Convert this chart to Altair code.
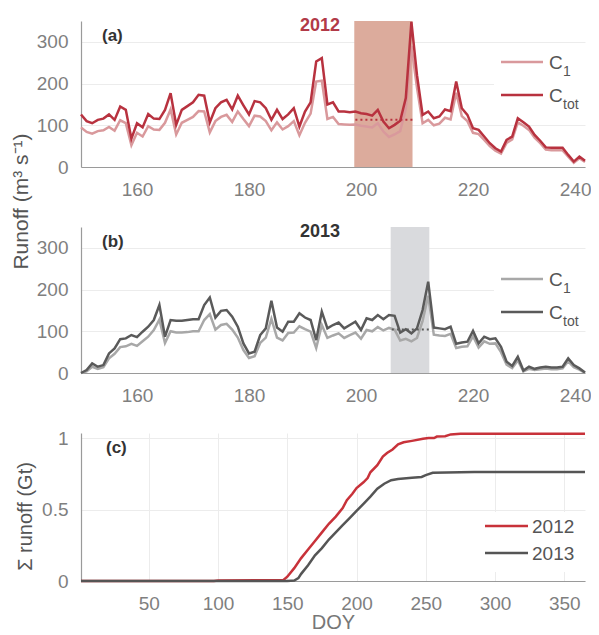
import altair as alt
import pandas as pd

# ---------------- data ----------------
doy = list(range(150, 241))

ctot_2012 = [126, 110, 105, 113, 116, 126, 113, 145, 137, 68,
             105, 95, 127, 116, 115, 137, 177, 101, 137, 146,
             155, 173, 171, 107, 141, 155, 161, 138, 171, 148,
             126, 158, 155, 141, 113, 137, 115, 126, 141, 97,
             133, 155, 253, 261, 150, 155, 133, 133, 131, 133,
             129, 127, 123, 137, 109, 93, 101, 111, 165, 348,
             220, 125, 133, 117, 121, 138, 134, 205, 141, 125,
             93, 89, 73, 57, 45, 37, 65, 73, 117, 107,
             97, 77, 63, 47, 46, 46, 46, 29, 13, 25, 15]

c1_2012 = [95, 84, 80, 86, 88, 96, 87, 112, 105, 52,
           82, 73, 98, 90, 89, 106, 138, 78, 106, 113,
           120, 134, 133, 83, 110, 120, 125, 108, 133, 115,
           98, 123, 121, 110, 88, 107, 90, 98, 110, 76,
           106, 128, 205, 207, 115, 120, 103, 102, 101, 102,
           99, 97, 95, 105, 85, 72, 78, 86, 140, 290,
           190, 105, 113, 100, 104, 118, 114, 178, 122, 110,
           82, 79, 65, 50, 39, 32, 58, 66, 107, 99,
           89, 70, 57, 42, 40, 40, 40, 25, 10, 21, 12]

ctot_2013 = [0, 7, 23, 15, 19, 47, 59, 81, 83, 91,
             86, 99, 111, 127, 163, 87, 127, 125, 125, 127,
             129, 129, 163, 181, 133, 149, 151, 135, 111, 71,
             47, 51, 91, 107, 173, 109, 99, 123, 123, 143,
             133, 127, 79, 147, 107, 115, 121, 107, 115, 123,
             103, 131, 127, 139, 129, 139, 137, 97, 105, 95,
             107, 151, 219, 109, 107, 105, 111, 70, 73, 75,
             101, 71, 87, 81, 83, 63, 27, 17, 39, 6,
             15, 10, 13, 15, 13, 13, 15, 35, 19, 11, 1]

c1_2013 = [0, 4, 15, 10, 14, 35, 46, 62, 64, 70,
           65, 76, 87, 103, 128, 72, 100, 97, 97, 98,
           100, 100, 127, 141, 104, 115, 118, 104, 85, 55,
           36, 40, 72, 85, 130, 85, 78, 96, 97, 112,
           105, 99, 60, 115, 84, 90, 95, 84, 91, 97,
           82, 103, 100, 110, 102, 108, 104, 78, 82, 76,
           84, 125, 185, 92, 90, 89, 94, 60, 63, 64,
           88, 61, 76, 70, 71, 50, 20, 12, 30, 4,
           10, 7, 9, 11, 9, 9, 11, 28, 14, 8, 0]

cum_doy_2012 = [1, 97, 100, 147, 150, 155, 160, 165, 170, 175, 180, 185, 190,
                193, 197, 200, 205, 208, 210, 215, 219, 222, 226, 230, 234,
                240, 248, 252, 256, 258, 264, 268, 275, 365]
cum_2012 = [0, 0, 0.003, 0.006, 0.03, 0.09, 0.16, 0.22, 0.28, 0.34, 0.40,
            0.45, 0.51, 0.565, 0.61, 0.65, 0.69, 0.72, 0.76, 0.81, 0.87,
            0.895, 0.92, 0.955, 0.97, 0.98, 0.995, 1.0, 1.0, 1.01, 1.012,
            1.025, 1.03, 1.03]

cum_doy_2013 = [1, 150, 155, 158, 160, 165, 170, 175, 180, 185, 190, 195,
                200, 205, 210, 215, 220, 225, 230, 240, 247, 250, 255, 265,
                285, 365]
cum_2013 = [0, 0, 0.003, 0.02, 0.05, 0.11, 0.18, 0.23, 0.29, 0.34, 0.39,
            0.44, 0.49, 0.54, 0.59, 0.645, 0.68, 0.705, 0.713, 0.722, 0.728,
            0.74, 0.757, 0.758, 0.763, 0.763]

series_names = ["C1", "Ctot"]
years = ["2012", "2013"]
window_2012 = [198.8, 209.2]
window_2013 = [205.3, 212.2]
dotted_2012 = 113
dotted_2013 = 104

FONT = "Liberation Sans"
W = 504


def long_df(c1, ctot):
    return pd.DataFrame({
        "doy": doy * 2,
        "value": c1 + ctot,
        "series": [series_names[0]] * len(doy) + [series_names[1]] * len(doy),
    })


one = pd.DataFrame({"k": [0]})


def txt(label, x, y, size, color, weight="normal", align="left"):
    return alt.Chart(pd.DataFrame({"t": [label]})).mark_text(
        font=FONT, fontSize=size, fontWeight=weight, color=color,
        align=align, baseline="middle"
    ).encode(x=alt.value(x), y=alt.value(y), text="t:N")


def leg_line(x1, x2, y, color, width):
    return alt.Chart(one).mark_rule(color=color, strokeWidth=width).encode(
        x=alt.value(x1), x2=alt.value(x2), y=alt.value(y))


def runoff_panel(c1, ctot, win, dot, colors, shade, label, year, ycol,
                 leg_y, title=None):
    xsc = alt.Scale(domain=[150, 240], nice=False, zero=False)
    ysc = alt.Scale(domain=[0, 350], nice=False)
    yaxis = alt.Axis(values=[0, 100, 200, 300], grid=True, title=None)
    if title:
        yaxis = alt.Axis(values=[0, 100, 200, 300], grid=True, title=title,
                         titleX=-60, titleY=180, titleAngle=-90,
                         titleAlign="center", titleBaseline="middle",
                         titleFontSize=21, titleFontWeight="normal",
                         titleColor="#555555", titleFont=FONT)
    base_x = alt.X("x0:Q", scale=xsc,
                   axis=alt.Axis(values=[160, 180, 200, 220, 240], grid=False,
                                 labelFlushOffset=6, title=None))
    rect = alt.Chart(pd.DataFrame({"x0": [win[0]], "x1": [win[1]],
                                   "y0": [0], "y1": [350]})).mark_rect(
        color=shade).encode(
        x=base_x, x2="x1:Q",
        y=alt.Y("y0:Q", scale=ysc, axis=yaxis), y2="y1:Q")
    bg = alt.Chart(one).mark_rect(color="white").encode(
        x=alt.value(413), x2=alt.value(510),
        y=alt.value(leg_y - 16), y2=alt.value(leg_y + 46))
    lines = alt.Chart(long_df(c1, ctot)).mark_line(strokeWidth=2.5).encode(
        x=alt.X("doy:Q", scale=xsc),
        y=alt.Y("value:Q", scale=ysc),
        color=alt.Color("series:N", scale=alt.Scale(domain=series_names,
                                                   range=colors), legend=None),
    )
    dotted = alt.Chart(pd.DataFrame({"x0": [win[0] + 0.2],
                                     "x1": [win[1] + 0.2],
                                     "y": [dot]})).mark_rule(
        color=colors[1], strokeWidth=2, strokeDash=[2, 3]).encode(
        x=alt.X("x0:Q", scale=xsc), x2="x1:Q",
        y=alt.Y("y:Q", scale=ysc))
    legend = [
        leg_line(420, 462, leg_y, colors[0], 2.5),
        leg_line(420, 462, leg_y + 33, colors[1], 2.5),
        txt("C", 468, leg_y + 1, 19, "#555555"),
        txt("1", 482, leg_y + 10, 14, "#555555"),
        txt("C", 468, leg_y + 34, 19, "#555555"),
        txt("tot", 482, leg_y + 43, 14, "#555555"),
    ]
    return alt.layer(
        rect, bg, lines, dotted, *legend,
        txt(label, 21, 15, 17, "#333333", "bold"),
        txt(year, 239, 5, 18, ycol, "bold", "center"),
    ).properties(width=W, height=146)


pa = runoff_panel(c1_2012, ctot_2012, window_2012, dotted_2012,
                  ["#d9999c", "#b8323f"], "#dcab9c", "(a)", years[0],
                  "#b23a48", 41, title="Runoff (m³ s⁻¹)")
pb = runoff_panel(c1_2013, ctot_2013, window_2013, dotted_2013,
                  ["#a8a8a8", "#5a5a5a"], "#d9dadd", "(b)", years[1],
                  "#333333", 52)

# ---------------- panel c ----------------
cum = pd.DataFrame({
    "doy": cum_doy_2012 + cum_doy_2013,
    "value": cum_2012 + cum_2013,
    "year": [years[0]] * len(cum_doy_2012) + [years[1]] * len(cum_doy_2013),
})
xsc_c = alt.Scale(domain=[1, 365], nice=False, zero=False)
ysc_c = alt.Scale(domain=[0, 1.035], nice=False)
c_colors = ["#c8323a", "#555555"]
c_lines = alt.Chart(cum).mark_line(strokeWidth=2.5).encode(
    x=alt.X("doy:Q", scale=xsc_c,
            axis=alt.Axis(values=[50, 100, 150, 200, 250, 300, 350], grid=True,
                          title="DOY", titleY=41, titleBaseline="middle",
                          titleFontSize=20, titleFontWeight="normal",
                          titleColor="#777777", titleFont=FONT)),
    y=alt.Y("value:Q", scale=ysc_c,
            axis=alt.Axis(values=[0, 0.5, 1], grid=True, format="~g",
                          title="Σ runoff (Gt)", titleX=-56, titleY=83,
                          titleAngle=-90, titleAlign="center",
                          titleBaseline="middle", titleFontSize=20,
                          titleFontWeight="normal", titleColor="#555555",
                          titleFont=FONT)),
    color=alt.Color("year:N", scale=alt.Scale(domain=years, range=c_colors),
                    legend=None),
)
c_bg = alt.Chart(one).mark_rect(color="white").encode(
    x=alt.value(398), x2=alt.value(510), y=alt.value(79), y2=alt.value(139))
pc = alt.layer(
    c_bg, c_lines,
    leg_line(404, 447, 93, c_colors[0], 2.5),
    leg_line(404, 447, 120, c_colors[1], 2.5),
    txt(years[0], 451, 94, 19, "#555555"),
    txt(years[1], 451, 121, 19, "#555555"),
    txt("(c)", 25, 15, 17, "#333333", "bold"),
).properties(width=W, height=148)

chart = alt.vconcat(pa, pb, pc, spacing=60, bounds="flush").resolve_scale(
    color="independent"
).properties(
    padding={"left": 2, "top": 8, "right": 0, "bottom": 0}
).configure_view(stroke=None).configure_axis(
    domainColor="#9a9a9a", domainWidth=1.2, ticks=False, tickSize=0,
    labelColor="#7f7f7f", labelFont=FONT, labelFontSize=19,
    labelPadding=13, gridColor="#ececec", gridWidth=1,
).configure_axisX(labelPadding=13)

chart.save("out.html", embed_options={"renderer": "svg", "actions": False})
